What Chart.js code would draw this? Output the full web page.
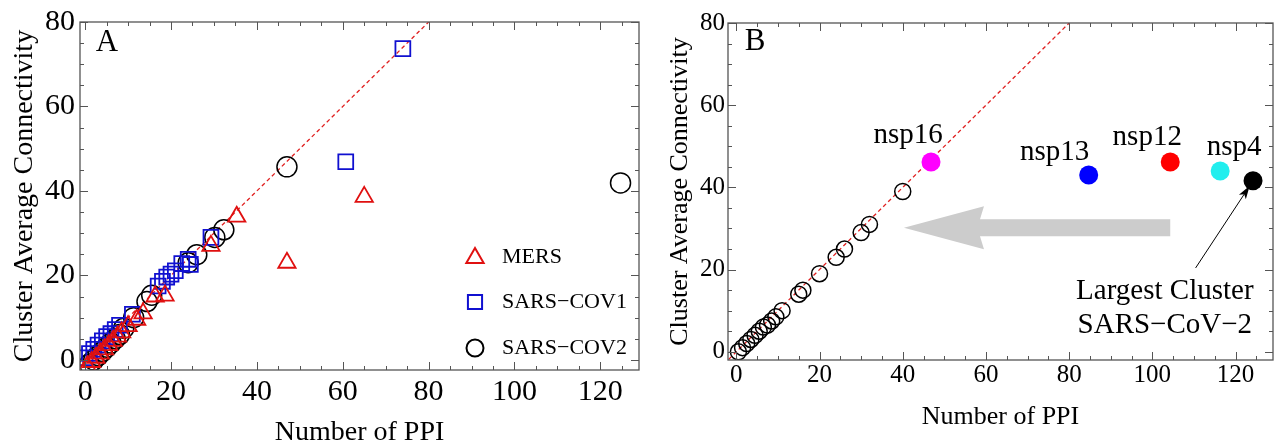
<!DOCTYPE html>
<html>
<head>
<meta charset="utf-8">
<script src="https://cdn.jsdelivr.net/npm/chart.js@4.4.1/dist/chart.umd.min.js"></script>
<style>
html, body { margin: 0; padding: 0; background: #fff; }
.panel { position: absolute; top: 0; width: 640px; height: 445px; }
</style>
</head>
<body>
<div class="panel" style="left:0"><canvas id="chartA"></canvas></div>
<div class="panel" style="left:640px"><canvas id="chartB"></canvas></div>
<script>
// ---- data, panel A ----
const mersX = [0.5, 1.5, 2.5, 3.5, 4.5, 5.5, 6.5, 7.5, 8.5, 10, 12, 13.5, 16.3, 18.6, 29.3, 35.3, 47, 65];
const mersY = [-1.5, -0.5, 0.5, 1.5, 2.5, 3.5, 4.5, 5.5, 6.5, 8, 9.5, 11, 15, 15.2, 27, 33.9, 23, 38.6];

const cov1X = [0, 1, 2, 3, 4, 5, 6, 7, 8, 11, 17, 18, 19, 20, 21, 22.5, 24, 24.5, 29.3, 60.7, 74];
const cov1Y = [0.5, 1.5, 2.5, 3.5, 4.5, 5.5, 6.2, 7.2, 8.2, 10.8, 17.5, 18.6, 19.6, 20.3, 21.1, 22.8, 23.8, 22.6, 29, 46.9, 73.7];

const cov2X = [1, 2, 3, 4, 5, 6, 7, 8, 9, 11.3, 14.4, 15.5, 24, 26, 30.2, 32.3, 47, 124.7];
const cov2Y = [-1, 0, 1, 2, 3, 4, 5, 6, 7.5, 10, 13.8, 15.3, 23, 24.9, 29, 30.8, 45.7, 41.9];

const legendLabels = ['MERS', 'SARS\u2212COV1', 'SARS\u2212COV2'];

// ---- data, panel B ----
const clusterX = [0.5, 1.5, 2.5, 3.5, 4.5, 5.5, 6.5, 7.5, 8.5, 9.5, 11, 15, 16, 20, 24, 26, 30, 32, 40];
const clusterY = [0, 1, 2, 3, 4, 5, 6, 6.5, 7.5, 8.5, 10, 14, 15, 19, 23, 25, 29, 31, 39];

const nspLabels = ['nsp16', 'nsp13', 'nsp12', 'nsp4', ''];
const nspX = [46.8, 84.7, 104.3, 116.3, 124.2];
const nspY = [46.2, 43, 46.2, 44, 41.6];
const nspColors = ['#ff00ff', '#0000ff', '#ff0000', '#22eeee', '#000000'];

const noteLines = ['Largest Cluster', 'SARS\u2212CoV\u22122'];

const xTickLabels = [0, 20, 40, 60, 80, 100, 120];
const yTickLabels = [0, 20, 40, 60, 80];

const FONT = "'Liberation Serif', 'Times New Roman', serif";

function pts(xs, ys) { return xs.map((x, i) => ({x: x, y: ys[i]})); }

function marker(ctx, style, x, y, r, color, lw) {
    ctx.save();
    ctx.strokeStyle = color;
    ctx.lineWidth = lw;
    ctx.beginPath();
    if (style === 'triangle') {
        ctx.moveTo(x, y - r);
        ctx.lineTo(x + 0.866 * r, y + 0.5 * r);
        ctx.lineTo(x - 0.866 * r, y + 0.5 * r);
        ctx.closePath();
    } else if (style === 'rect') {
        const s = r * Math.SQRT1_2;
        ctx.rect(x - s, y - s, 2 * s, 2 * s);
    } else {
        ctx.arc(x, y, r, 0, Math.PI * 2);
    }
    ctx.stroke();
    ctx.restore();
}

// frame with inward ticks on all four sides
const framePlugin = {
    id: 'frame',
    afterDraw(chart) {
        const {ctx, chartArea: a} = chart;
        const sx = chart.scales.x, sy = chart.scales.y;
        ctx.save();
        ctx.strokeStyle = '#555';
        ctx.lineWidth = 1.3;
        ctx.strokeRect(a.left, a.top, a.right - a.left, a.bottom - a.top);
        ctx.lineWidth = 1;
        ctx.beginPath();
        for (let v = 0; v <= sx.max; v += 5) {
            const len = v % 20 === 0 ? 8 : 4;
            const p = Math.round(sx.getPixelForValue(v)) + 0.5;
            ctx.moveTo(p, a.bottom); ctx.lineTo(p, a.bottom - len);
            ctx.moveTo(p, a.top); ctx.lineTo(p, a.top + len);
        }
        for (let v = 0; v <= sy.max; v += 5) {
            const len = v % 20 === 0 ? 8 : 4;
            const p = Math.round(sy.getPixelForValue(v)) + 0.5;
            ctx.moveTo(a.left, p); ctx.lineTo(a.left + len, p);
            ctx.moveTo(a.right, p); ctx.lineTo(a.right - len, p);
        }
        ctx.stroke();
        // panel letter
        ctx.fillStyle = '#000';
        ctx.font = '31px ' + FONT;
        ctx.textAlign = 'center';
        ctx.textBaseline = 'middle';
        const o = chart.options.plugins.frame;
        ctx.fillText(o.letter, a.left + o.dx, a.top + o.dy);
        ctx.restore();
    }
};

const legendPlugin = {
    id: 'insideLegend',
    afterDraw(chart) {
        const ctx = chart.ctx;
        const styles = ['triangle', 'rect', 'circle'];
        const colors = ['#e01010', '#1010d0', '#000'];
        const rows = [257, 302, 348];
        ctx.save();
        ctx.font = '22px ' + FONT;
        ctx.fillStyle = '#000';
        ctx.textBaseline = 'middle';
        legendLabels.forEach((t, i) => {
            marker(ctx, styles[i], 475, rows[i] + (i === 0 ? 1 : 0), i === 2 ? 8.5 : 10, colors[i], 2);
            ctx.fillText(t, 502, rows[i]);
        });
        ctx.restore();
    }
};

// gray arrow behind the points of panel B
const bigArrowPlugin = {
    id: 'bigArrow',
    beforeDatasetsDraw(chart) {
        const {ctx} = chart;
        const sx = chart.scales.x, sy = chart.scales.y;
        const x0 = sx.getPixelForValue(104.3), x1 = sx.getPixelForValue(40.3);
        const yc = sy.getPixelForValue(30.2);
        ctx.save();
        ctx.fillStyle = '#cccccc';
        ctx.beginPath();
        ctx.moveTo(x1, yc);
        ctx.lineTo(x1 + 80, yc - 21.5);
        ctx.lineTo(x1 + 76, yc - 8.5);
        ctx.lineTo(x0, yc - 8.5);
        ctx.lineTo(x0, yc + 8.5);
        ctx.lineTo(x1 + 76, yc + 8.5);
        ctx.lineTo(x1 + 80, yc + 21.5);
        ctx.closePath();
        ctx.fill();
        ctx.restore();
    }
};

const labelsPlugin = {
    id: 'nspLabels',
    afterDatasetsDraw(chart) {
        const {ctx} = chart;
        const sx = chart.scales.x, sy = chart.scales.y;
        const off = [[-23, -27], [-34, -23], [-23, -25], [14, -24]];
        ctx.save();
        ctx.fillStyle = '#000';
        ctx.font = '29px ' + FONT;
        ctx.textAlign = 'center';
        ctx.textBaseline = 'middle';
        nspLabels.forEach((t, i) => {
            if (!t) return;
            ctx.fillText(t, sx.getPixelForValue(nspX[i]) + off[i][0], sy.getPixelForValue(nspY[i]) + off[i][1]);
        });
        // note under the largest cluster
        const nx = sx.getPixelForValue(103), ny = sy.getPixelForValue(14.6);
        ctx.fillText(noteLines[0], nx, ny);
        ctx.fillText(noteLines[1], nx, ny + 34);
        // thin pointer arrow
        const tx = sx.getPixelForValue(110.4), ty = sy.getPixelForValue(20.4);
        const px = sx.getPixelForValue(nspX[4]), py = sy.getPixelForValue(nspY[4]);
        const ang = Math.atan2(py - ty, px - tx);
        const ex = px - Math.cos(ang) * 6, ey = py - Math.sin(ang) * 6;
        ctx.strokeStyle = '#000';
        ctx.lineWidth = 1;
        ctx.beginPath();
        ctx.moveTo(tx, ty);
        ctx.lineTo(ex, ey);
        ctx.stroke();
        ctx.beginPath();
        ctx.moveTo(ex, ey);
        ctx.lineTo(ex - Math.cos(ang - 0.3) * 14, ey - Math.sin(ang - 0.3) * 14);
        ctx.lineTo(ex - Math.cos(ang) * 10, ey - Math.sin(ang) * 10);
        ctx.lineTo(ex - Math.cos(ang + 0.3) * 14, ey - Math.sin(ang + 0.3) * 14);
        ctx.closePath();
        ctx.fill();
        ctx.restore();
    }
};

function diagLine() {
    return {
        type: 'line',
        data: [{x: -3, y: -3}, {x: 80, y: 80}],
        borderColor: '#e02020',
        borderWidth: 1.3,
        borderDash: [4, 3],
        pointRadius: 0,
        order: 10
    };
}

function axes(cfg) {
    return {
        x: {
            type: 'linear', min: cfg.xmin, max: 129,
            afterBuildTicks: s => { s.ticks = xTickLabels.map(v => ({value: v})); },
            afterFit: s => { s.height = cfg.xh; s.paddingLeft = 0; s.paddingRight = 0; },
            grid: {display: false, drawTicks: false}, border: {display: false},
            ticks: {color: '#000', padding: cfg.xpad, font: {family: FONT, size: cfg.tick}},
            title: {display: true, text: 'Number of PPI', color: '#000',
                    font: {family: FONT, size: cfg.title, lineHeight: 1}, padding: {top: 0, bottom: cfg.xtp}}
        },
        y: {
            type: 'linear', min: cfg.ymin, max: 80,
            afterBuildTicks: s => { s.ticks = yTickLabels.map(v => ({value: v})); },
            afterFit: s => { s.width = cfg.yw; s.paddingTop = 0; s.paddingBottom = 0; },
            grid: {display: false, drawTicks: false}, border: {display: false},
            ticks: {color: '#000', padding: cfg.ypad, font: {family: FONT, size: cfg.tick}},
            title: {display: true, text: 'Cluster Average Connectivity', color: '#000',
                    font: {family: FONT, size: cfg.title, lineHeight: 1}, padding: {top: cfg.ytp, bottom: 0}}
        }
    };
}

new Chart(document.getElementById('chartA'), {
    type: 'scatter',
    data: {
        datasets: [
            diagLine(),
            {label: legendLabels[0], data: pts(mersX, mersY), pointStyle: 'triangle', pointRadius: 10,
             borderColor: '#e01010', backgroundColor: 'rgba(0,0,0,0)', pointBorderWidth: 1.8},
            {label: legendLabels[1], data: pts(cov1X, cov1Y), pointStyle: 'rect', pointRadius: 10.5,
             borderColor: '#1010d0', backgroundColor: 'rgba(0,0,0,0)', pointBorderWidth: 1.8},
            {label: legendLabels[2], data: pts(cov2X, cov2Y), pointStyle: 'circle', pointRadius: 10,
             borderColor: '#000', backgroundColor: 'rgba(0,0,0,0)', pointBorderWidth: 1.5}
        ]
    },
    options: {
        responsive: true, maintainAspectRatio: false, animation: false,
        layout: {autoPadding: false, padding: {top: 22, right: 1, bottom: 0, left: 0}},
        scales: axes({xmin: -1.2, ymin: -2.4, xh: 75, yw: 80, tick: 30, title: 28, xpad: 4, ypad: 5, xtp: -2, ytp: 11}),
        plugins: {legend: {display: false}, tooltip: {enabled: false}, frame: {letter: 'A', dx: 27, dy: 21}}
    },
    plugins: [framePlugin, legendPlugin]
});

new Chart(document.getElementById('chartB'), {
    type: 'scatter',
    data: {
        datasets: [
            diagLine(),
            {label: 'SARS-CoV-2', data: pts(clusterX, clusterY), pointStyle: 'circle', pointRadius: 8,
             borderColor: '#000', backgroundColor: 'rgba(0,0,0,0)', pointBorderWidth: 1.5},
            {label: 'nsp', data: pts(nspX, nspY), pointStyle: 'circle', pointRadius: 9.5,
             borderColor: nspColors, backgroundColor: nspColors, pointBorderWidth: 0}
        ]
    },
    options: {
        responsive: true, maintainAspectRatio: false, animation: false,
        layout: {autoPadding: false, padding: {top: 23, right: 7, bottom: 0, left: 0}},
        scales: axes({xmin: -2, ymin: -2, xh: 85, yw: 88, tick: 25, title: 26, xpad: 0, ypad: 3, xtp: 15, ytp: 27}),
        plugins: {legend: {display: false}, tooltip: {enabled: false}, frame: {letter: 'B', dx: 27, dy: 19}}
    },
    plugins: [bigArrowPlugin, framePlugin, labelsPlugin]
});
</script>
</body>
</html>
